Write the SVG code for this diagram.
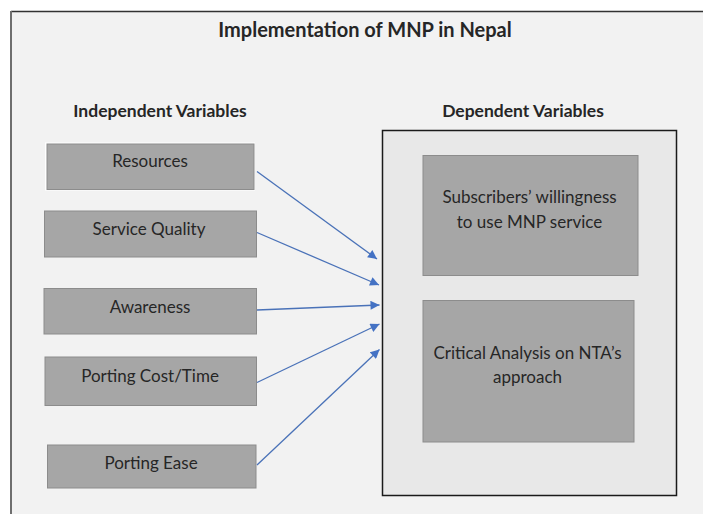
<svg xmlns="http://www.w3.org/2000/svg" width="703" height="514" viewBox="0 0 703 514">
  <style>
    .head { font-family: Lato, "Open Sans", "Liberation Sans", sans-serif; font-weight: bold; fill: #262626; text-anchor: middle; }
    .lbl { font-family: Lato, "Open Sans", "Liberation Sans", sans-serif; font-size: 17px; fill: #262626; text-anchor: middle; }
    .var { fill: #a6a6a6; stroke: #8c8c8c; stroke-width: 1; }
    .conn { stroke: #4a72b8; stroke-width: 1.3; fill: none; marker-end: url(#arrow); }
  </style>
  <defs>
    <marker id="arrow" viewBox="0 0 10 10" refX="10" refY="5" markerWidth="10" markerHeight="9" markerUnits="userSpaceOnUse" orient="auto">
      <path d="M0,0 L10,5 L0,10 z" fill="#4472c4"/>
    </marker>
  </defs>

  <!-- page -->
  <rect x="0" y="0" width="703" height="514" fill="#ffffff"/>
  <rect x="11" y="11" width="692" height="503" fill="#f2f2f2"/>
  <line x1="11" y1="11.5" x2="703" y2="11.5" stroke="#333333" stroke-width="1.5"/>
  <line x1="11" y1="11" x2="11" y2="514" stroke="#6f6f6f" stroke-width="2"/>

  <text class="head" x="365" y="37" font-size="20">Implementation of MNP in Nepal</text>
  <text class="head" x="160" y="117" font-size="17.5">Independent Variables</text>
  <text class="head" x="523" y="117" font-size="17.5">Dependent Variables</text>

  <!-- independent variables -->
  <g id="resources">
    <rect x="45" y="142.5" width="210" height="48" fill="#ffffff"/>
    <rect class="var" x="47" y="144" width="207" height="45.5" stroke="none"/>
    <text class="lbl" x="150" y="167">Resources</text>
  </g>
  <g id="service-quality">
    <rect class="var" x="44.5" y="211" width="212" height="46"/>
    <text class="lbl" x="149" y="235" font-size="16.5">Service Quality</text>
  </g>
  <g id="awareness">
    <rect class="var" x="44" y="288.5" width="212.5" height="45.5"/>
    <text class="lbl" x="150" y="312.5">Awareness</text>
  </g>
  <g id="porting-cost">
    <rect class="var" x="45" y="357" width="211.5" height="48.5"/>
    <text class="lbl" x="150" y="381.5">Porting Cost/Time</text>
  </g>
  <g id="porting-ease">
    <rect class="var" x="47.5" y="445" width="208.5" height="43"/>
    <text class="lbl" x="151" y="469">Porting Ease</text>
  </g>

  <!-- dependent variables -->
  <g id="dependent">
    <rect x="382.5" y="130.5" width="294" height="365" fill="#e8e8e8" stroke="#1a1a1a" stroke-width="1.5"/>
  </g>
  <g id="willingness">
    <rect class="var" x="423" y="155.5" width="215" height="120"/>
    <text class="lbl" x="529.5" y="202.5">Subscribers’ willingness</text>
    <text class="lbl" x="529.5" y="227.5">to use MNP service</text>
  </g>
  <g id="nta-analysis">
    <rect class="var" x="423" y="300.5" width="211" height="141.5"/>
    <text class="lbl" x="527.5" y="359">Critical Analysis on NTA’s</text>
    <text class="lbl" x="527.5" y="383">approach</text>
  </g>

  <!-- connectors -->
  <g id="connectors">
    <line class="conn" x1="257" y1="171.5" x2="377" y2="259"/>
    <line class="conn" x1="257" y1="232.5" x2="379" y2="285"/>
    <line class="conn" x1="257" y1="310" x2="379.5" y2="305"/>
    <line class="conn" x1="257" y1="382.5" x2="379.5" y2="324"/>
    <line class="conn" x1="257" y1="465" x2="379.5" y2="349.5"/>
  </g>
</svg>
